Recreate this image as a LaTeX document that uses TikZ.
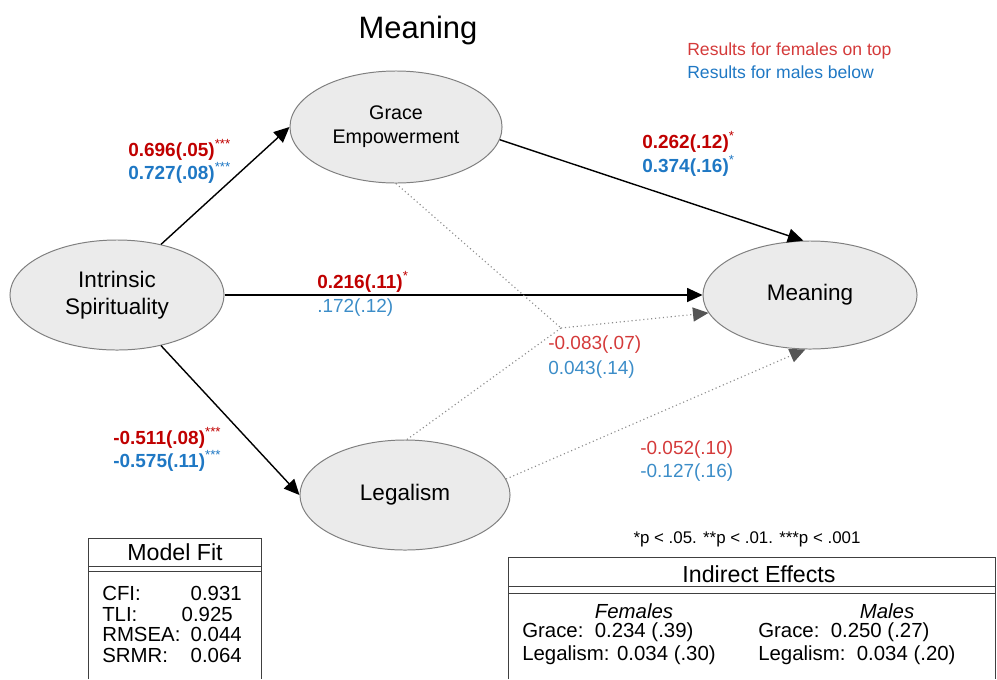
\documentclass[tikz,border=0pt]{standalone}
\usepackage{fontspec}
\setmainfont{Liberation Sans}
\usepackage{tikz}
\usetikzlibrary{shapes.geometric,arrows.meta}

\definecolor{femred}{HTML}{C00000}
\definecolor{femlight}{HTML}{D43A3A}
\definecolor{maleblue}{HTML}{1F78C4}
\definecolor{malelight}{HTML}{3C8DC8}
\definecolor{latfill}{HTML}{EBEBEB}
\definecolor{latline}{HTML}{7F7F7F}
\definecolor{boxline}{HTML}{404040}
\definecolor{dotgray}{HTML}{8C8C8C}
\definecolor{tipgray}{HTML}{555555}

\tikzset{
  latent/.style={ellipse, draw=latline, fill=latfill, line width=0.7pt, inner sep=0pt,
    align=center, font=\fontsize{16}{19}\selectfont},
  sigpath/.style={black, line width=1pt, -{Triangle[length=11pt,width=10pt]}},
  nsline/.style={dotgray, line width=0.8pt, dash pattern=on 0.8pt off 2pt},
  nspath/.style={nsline, -{Triangle[length=11pt,width=10pt,color=tipgray]}},
  coef/.style={inner sep=0pt, anchor=west, font=\fontsize{13.5}{16}\selectfont},
  tabtext/.style={inner sep=0pt, font=\fontsize{14.5}{17}\selectfont},
}

\begin{document}
\begin{tikzpicture}[x=0.025cm, y=-0.025cm]
\useasboundingbox (0,0) rectangle (997,679);

\node (title) at (418,30) {\fontsize{22}{26}\selectfont Meaning};
\node[coef, femlight, font=\fontsize{12.5}{15}\selectfont] (legf) at (687,51) {Results for females on top};
\node[coef, maleblue, font=\fontsize{12.5}{15}\selectfont] (legm) at (687,72) {Results for males below};

% latent variables
\node[latent, minimum width=5.35cm, minimum height=2.75cm] (intr) at (117,295) {Intrinsic\\Spirituality};
\node[latent, minimum width=5.3cm, minimum height=2.8cm, font=\fontsize{14}{17}\selectfont] (grace) at (396,127) {Grace\\Empowerment};
\node[latent, minimum width=5.35cm, minimum height=2.7cm] (mean) at (810,295) {Meaning};
\node[latent, minimum width=5.25cm, minimum height=2.75cm] (legal) at (405,495) {Legalism};
\coordinate (junc) at (561,328);

% paths
\draw[sigpath] (intr.49) -- (grace.west);
\draw[sigpath] (intr.east) -- (mean.west);
\draw[sigpath] (intr.-49) -- (legal.west);
\draw[sigpath] (grace.-7) -- (mean.97);
\draw[nsline] (grace.south) -- (junc);
\draw[nsline] (legal.88) -- (junc);
\draw[nspath] (junc) -- (mean.190);
\draw[nspath] (legal.9) -- (mean.-95);

% coefficients
\node[coef, femred] (cf1) at (128,150) {\textbf{0.696(.05)}\textsuperscript{***}};
\node[coef, maleblue] (cm1) at (128,173) {\textbf{0.727(.08)}\textsuperscript{***}};
\node[coef, femred] (cf2) at (642,142) {\textbf{0.262(.12)}\textsuperscript{*}};
\node[coef, maleblue] (cm2) at (642,166) {\textbf{0.374(.16)}\textsuperscript{*}};
\node[coef, femred] (cf3) at (317,282) {\textbf{0.216(.11)}\textsuperscript{*}};
\node[coef, malelight] (cm3) at (317,308) {.172(.12)};
\node[coef, femred] (cf4) at (113,438) {\textbf{-0.511(.08)}\textsuperscript{***}};
\node[coef, maleblue] (cm4) at (113,461) {\textbf{-0.575(.11)}\textsuperscript{***}};
\node[coef, femlight] (cf5) at (548,345) {-0.083(.07)};
\node[coef, malelight] (cm5) at (548,370) {0.043(.14)};
\node[coef, femlight] (cf6) at (640,450) {-0.052(.10)};
\node[coef, malelight] (cm6) at (640,473) {-0.127(.16)};

\node[inner sep=0pt, font=\fontsize{12}{14}\selectfont] (pval) at (747,539) {*p < .05. **p < .01. ***p < .001};

% model fit table
\draw[boxline, line width=0.7pt] (88,679) -- (88,538) -- (261,538) -- (261,679);
\draw[boxline, line width=0.7pt] (88,566) -- (261,566);
\draw[boxline, line width=0.7pt] (88,571) -- (261,571);
\node[font=\fontsize{16.5}{19}\selectfont] (fithead) at (175,552) {Model Fit};
\node[tabtext, anchor=west] (cfi) at (102,593) {CFI:};
\node[tabtext, anchor=east] (cfiv) at (242,593) {0.931};
\node[tabtext, anchor=west] (tli) at (102,614) {TLI:};
\node[tabtext, anchor=east] (tliv) at (233,614) {0.925};
\node[tabtext, anchor=west] (rmsea) at (102,634) {RMSEA:};
\node[tabtext, anchor=east] (rmseav) at (242,634) {0.044};
\node[tabtext, anchor=west] (srmr) at (102,655) {SRMR:};
\node[tabtext, anchor=east] (srmrv) at (242,655) {0.064};

% indirect effects table
\draw[boxline, line width=0.7pt] (508,679) -- (508,557) -- (995,557) -- (995,679);
\draw[boxline, line width=0.7pt] (508,586) -- (995,586);
\draw[boxline, line width=0.7pt] (508,593) -- (995,593);
\node[font=\fontsize{16.5}{19}\selectfont] (indhead) at (759,574) {Indirect Effects};
\node[tabtext] (fem) at (634,611) {\itshape Females};
\node[tabtext] (mal) at (887,611) {\itshape Males};
\node[tabtext, anchor=west] (fgr) at (522,632) {Grace:\ \ 0.234 (.39)};
\node[tabtext, anchor=west] (fle) at (522,655) {Legalism: 0.034 (.30)};
\node[tabtext, anchor=west] (mgr) at (758,632) {Grace:\ \ 0.250 (.27)};
\node[tabtext, anchor=west] (mle) at (758,655) {Legalism:\ \ 0.034 (.20)};

\end{tikzpicture}
\end{document}
